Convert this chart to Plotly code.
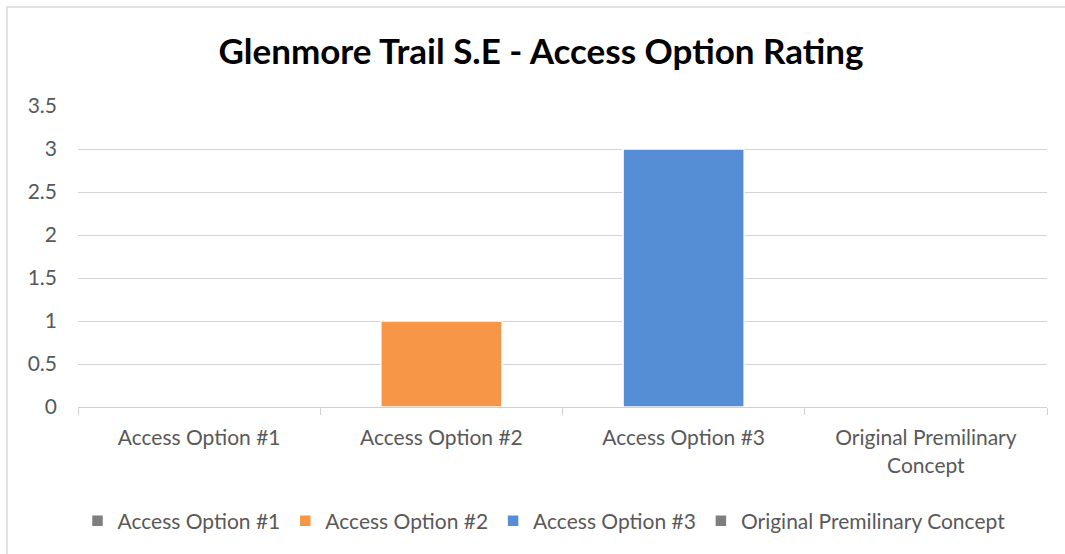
import plotly.graph_objects as go

categories = ["Access Option #1", "Access Option #2", "Access Option #3", "Original Premilinary Concept"]
tick_labels = ["Access Option #1", "Access Option #2", "Access Option #3", "Original Premilinary<br>Concept"]
values = [0, 1, 3, 0]
colors = ["#7F7F7F", "#F79646", "#558ED5", "#7F7F7F"]

W, H = 1065, 554
L, R, T, B = 78, 18, 106, 147
pw, ph = W - L - R, H - T - B

fig = go.Figure()
for c, v, col in zip(categories, values, colors):
    fig.add_trace(go.Bar(
        x=[c], y=[v], name=c, width=0.5,
        marker=dict(color=col, line=dict(color="white", width=1.5)),
    ))

font_fam = "Lato, 'Open Sans', sans-serif"
fig.update_layout(
    width=W, height=H,
    margin=dict(l=L, r=R, t=T, b=B),
    paper_bgcolor="white", plot_bgcolor="white",
    barmode="overlay",
    title=dict(text="<b>Glenmore Trail S.E - Access Option Rating</b>",
               x=(541) / W, xanchor="center", y=1 - 52 / H, yanchor="middle",
               font=dict(family=font_fam, size=35, color="#000000")),
    font=dict(family=font_fam, size=21, color="#595959"),
    showlegend=True,
    legend=dict(orientation="h", x=(544 - L) / pw, xanchor="center",
                y=-(521 - (T + ph)) / ph, yanchor="middle",
                font=dict(size=21, color="#595959"), itemwidth=30,
                traceorder="normal"),
    xaxis=dict(categoryorder="array", categoryarray=categories,
               tickvals=categories, ticktext=tick_labels,
               showline=True, linecolor="#D0D0D0", linewidth=1,
               ticks="outside", tickson="boundaries", ticklen=7, tickcolor="#D0D0D0",
               showgrid=False, ticklabelstandoff=12, fixedrange=True),
    yaxis=dict(range=[0, 3.5], dtick=0.5, showgrid=True, gridcolor="#D4D4D4",
               gridwidth=1.2, zeroline=False, showline=False,
               ticklabelstandoff=20, fixedrange=True),
    shapes=[dict(type="rect", xref="paper", yref="paper",
                 x0=(7 - L) / pw, x1=(1075 - L) / pw,
                 y0=-(565 - (T + ph)) / ph, y1=1 + (T - 7) / ph,
                 line=dict(color="#D9D9D9", width=1.5), fillcolor="rgba(0,0,0,0)", layer="below")],
)

fig.write_html("out.html", config={"displayModeBar": False},
               post_script="document.body.style.margin='0';")
